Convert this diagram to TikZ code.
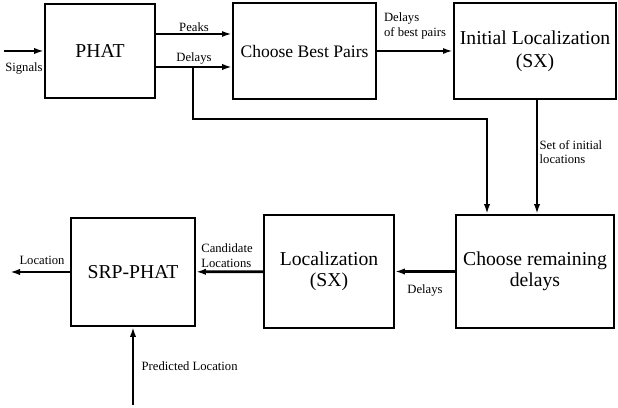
\documentclass[tikz,border=0pt]{standalone}
\usepackage{fontspec}
\setmainfont{Liberation Serif}
\usepackage{xcolor}
\usetikzlibrary{arrows.meta, positioning, calc}

\tikzset{
  blockbox/.style={draw, line width=1.4pt, inner sep=0pt, align=center,
                   font=\fontsize{14}{15}\selectfont},
  lbl/.style={font=\fontsize{9}{10.5}\selectfont, inner sep=1pt, align=left},
  flow/.style={-{Latex[length=2.5mm,width=1.6mm]}, line width=2pt},
  thinflow/.style={-{Latex[length=2.5mm,width=1.5mm]}, line width=1.4pt}
}

\begin{document}
\begin{tikzpicture}
  \useasboundingbox (0,0) rectangle (15.45,10.2);

  % Top row
  \node[blockbox, minimum width=2.75cm, minimum height=2.35cm] (phat) at (2.5,8.925) {PHAT};
  \node[blockbox, minimum width=3.575cm, minimum height=2.4cm, font=\fontsize{12.5}{14}\selectfont] (pairs) at (7.6125,8.925) {Choose Best Pairs};
  \node[blockbox, minimum width=4.05cm, minimum height=2.4cm, font=\fontsize{14}{16.5}\selectfont] (init) at (13.375,8.925) {Initial Localization\\(SX)};

  % Bottom row
  \node[blockbox, minimum width=3.95cm, minimum height=2.825cm] (remain) at (13.375,3.4125) {Choose remaining\\delays};
  \node[blockbox, minimum width=3.25cm, minimum height=2.825cm] (loc) at (8.225,3.4125) {Localization\\(SX)};
  \node[blockbox, minimum width=3.1cm, minimum height=2.7cm] (srp) at (3.325,3.4) {SRP-PHAT};

  % Free ends
  \coordinate (sigin) at (0.1,8.925);
  \coordinate (locout) at (0.25,3.4);
  \coordinate (predin) at (3.325,0.075);
  \coordinate (split) at (4.825,8.525);

  % Signals in
  \draw[flow] (sigin) -- (phat);
  \node[lbl] (siglbl) at (0.6,8.5) {Signals};

  % PHAT -> Choose Best Pairs
  \draw[thinflow] ([yshift=4.25mm]phat.east) -- node[lbl, above] (peakslbl) {Peaks} ([yshift=4.25mm]pairs.west);
  \draw[flow] ([yshift=-4mm]phat.east) -- node[lbl, above] (delayslbl) {Delays} ([yshift=-4mm]pairs.west);

  % Delays branch to remaining
  \draw[flow] (split) -- (split |- 0,7.225) -| ([xshift=-12mm]remain.north);

  % Best pairs -> initial
  \draw[thinflow] (pairs) -- (init);
  \node[lbl] (bestlbl) at (10.375,9.55) {Delays\\of best pairs};

  % Initial -> remaining
  \draw[flow] ([xshift=0.5mm]init.south) -- ([xshift=0.5mm]remain.north);
  \node[lbl, anchor=west] (setlbl) at (13.45,6.4) {Set of initial\\locations};

  % Remaining -> localization -> SRP
  \draw[flow] (remain) -- (loc);
  \node[lbl] (dlbl) at (10.625,2.95) {Delays};
  \draw[flow] (loc) -- (srp);
  \node[lbl] (candlbl) at (5.675,3.8) {Candidate\\Locations};

  % SRP out and predicted in
  \draw[flow] (srp) -- (locout);
  \node[lbl] (loclbl) at (1.05,3.7) {Location};
  \draw[flow] (predin) -- (srp);
  \node[lbl, anchor=west] (predlbl) at (3.5,1.05) {Predicted Location};
\end{tikzpicture}
\end{document}
